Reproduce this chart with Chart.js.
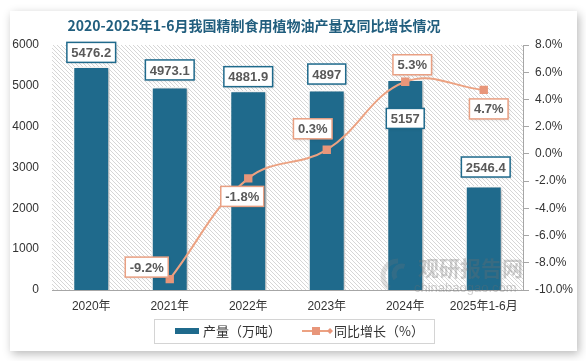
<!DOCTYPE html>
<html>
<head>
<meta charset="utf-8">
<script src="https://cdn.jsdelivr.net/npm/chart.js@4"></script>
<style>
  html, body { margin:0; padding:0; background:#ffffff; width:586px; height:361px; overflow:hidden; }
  #card { position:absolute; left:10px; top:11px; width:567px; height:340px; background:#fff;
          box-shadow: 2px 3px 9px rgba(0,0,0,0.28); }
  #c { position:absolute; left:0; top:0; }
</style>
</head>
<body>
<div id="card"></div>
<canvas id="c" width="586" height="361"></canvas>
<script>
const categories = ['2020年','2021年','2022年','2023年','2024年','2025年1-6月'];
const production = [5476.2, 4973.1, 4881.9, 4897, 5157, 2546.4];
const growth = [null, -9.2, -1.8, 0.3, 5.3, 4.7];
const titleText = '2020-2025年1-6月我国精制食用植物油产量及同比增长情况';
const legendBar = '产量（万吨）';
const legendLine = '同比增长（%）';

const BAR = '#1f6a8c';
const LINE = '#eca282';
const MARK = '#e8967a';
const FONT = '"Liberation Sans", "Noto Sans CJK SC", sans-serif';

// label placement offsets (px) relative to element
const barLabelOff = [[0,-14],[0,-17],[0,-14],[0,-16],[0,39],[2,-19]];
const lineLabelOff = [null,[-23,-12],[-6,18],[-14,-21],[7,-17],[5,19]];

let hatch = null;
function getHatch(ctx){
  if (hatch) return hatch;
  const p = document.createElement('canvas'); p.width = 4; p.height = 4;
  const g = p.getContext('2d');
  g.fillStyle = '#ffffff'; g.fillRect(0,0,4,4);
  g.strokeStyle = '#d6d6d6'; g.lineWidth = 1;
  g.beginPath(); g.moveTo(-1,-1); g.lineTo(5,5); g.moveTo(-1,3); g.lineTo(1,5); g.moveTo(3,-1); g.lineTo(5,1); g.stroke();
  hatch = ctx.createPattern(p,'repeat');
  return hatch;
}

function box(ctx, cx, cy, text, border){
  ctx.font = 'bold 13px ' + FONT;
  const w = ctx.measureText(text).width + 9;
  const h = 20;
  ctx.save();
  ctx.shadowColor = 'rgba(0,0,0,0.18)'; ctx.shadowBlur = 3; ctx.shadowOffsetX = 1; ctx.shadowOffsetY = 1;
  ctx.fillStyle = '#fff';
  ctx.fillRect(cx - w/2, cy - h/2, w, h);
  ctx.restore();
  ctx.strokeStyle = border; ctx.lineWidth = 1.5;
  ctx.strokeRect(cx - w/2, cy - h/2, w, h);
  ctx.fillStyle = '#595959';
  ctx.textAlign = 'center'; ctx.textBaseline = 'middle';
  ctx.fillText(text, cx, cy + 1);
}

const deco = {
  id: 'deco',
  beforeDraw(chart){
    const {ctx, chartArea:a} = chart;
    ctx.save();
    ctx.fillStyle = getHatch(ctx);
    ctx.fillRect(a.left, a.top, a.right - a.left, a.bottom - a.top);
    ctx.restore();
  },
  beforeDatasetDraw(chart, args){
    if (args.index === 0){
      chart.ctx.save();
      chart.ctx.shadowColor = 'rgba(0,0,0,0.25)';
      chart.ctx.shadowBlur = 4; chart.ctx.shadowOffsetX = 2; chart.ctx.shadowOffsetY = 1;
    }
  },
  afterDatasetDraw(chart, args){
    if (args.index === 0) chart.ctx.restore();
  },
  afterDatasetsDraw(chart){
    const ctx = chart.ctx;
    ctx.save();
    // watermark
    ctx.fillStyle = 'rgba(110,110,110,0.32)';
    ctx.font = 'bold 21px "Noto Sans CJK SC", sans-serif';
    ctx.textAlign = 'left'; ctx.textBaseline = 'middle';
    ctx.fillText('观研报告网', 418, 268);
    ctx.font = '13px "Liberation Sans", sans-serif';
    ctx.fillText('chinabaogao.com', 414, 288);
    ctx.strokeStyle = 'rgba(120,120,120,0.22)'; ctx.lineWidth = 5;
    ctx.beginPath(); ctx.arc(398, 276, 15, Math.PI*0.7, Math.PI*1.5); ctx.stroke();
    ctx.beginPath(); ctx.arc(402, 274, 8, Math.PI*0.8, Math.PI*1.6); ctx.stroke();

    const bm = chart.getDatasetMeta(0);
    bm.data.forEach((el, i) => {
      const o = barLabelOff[i];
      box(ctx, el.x + o[0], el.y + o[1], String(production[i]), '#1f6a8c');
    });
    const lm = chart.getDatasetMeta(1);
    lm.data.forEach((el, i) => {
      if (growth[i] === null) return;
      const o = lineLabelOff[i];
      box(ctx, el.x + o[0], el.y + o[1], growth[i].toFixed(1) + '%', '#e9a083');
    });
    ctx.restore();
  },
  afterDraw(chart){
    const ctx = chart.ctx;
    ctx.save();
    // title
    ctx.fillStyle = '#215e7e';
    ctx.font = 'bold 14px "Noto Sans CJK SC", sans-serif';
    ctx.textAlign = 'center'; ctx.textBaseline = 'middle';
    ctx.fillText(titleText, 254, 26);
    // legend
    ctx.strokeStyle = '#d4d4d4'; ctx.lineWidth = 1;
    ctx.strokeRect(154.5, 319.5, 280, 24);
    ctx.fillStyle = BAR;
    ctx.fillRect(175, 328, 24, 6);
    ctx.fillStyle = '#333';
    ctx.font = '13px "Noto Sans CJK SC", sans-serif';
    ctx.textAlign = 'left';
    ctx.fillText(legendBar, 203, 331);
    ctx.strokeStyle = LINE; ctx.lineWidth = 2;
    ctx.beginPath(); ctx.moveTo(302, 331); ctx.lineTo(329, 331); ctx.stroke();
    ctx.fillStyle = MARK;
    ctx.fillRect(312, 327, 8, 8);
    ctx.beginPath(); ctx.moveTo(327, 331); ctx.lineTo(330, 328); ctx.lineTo(333, 331); ctx.lineTo(330, 334); ctx.closePath(); ctx.fill();
    ctx.fillStyle = '#333';
    ctx.fillText(legendLine, 334, 331);
    ctx.restore();
  }
};

new Chart(document.getElementById('c'), {
  data: {
    labels: categories,
    datasets: [
      { type:'bar', label:legendBar, data:production, yAxisID:'y',
        backgroundColor:BAR, borderColor:'#ffffff', borderWidth:1.5,
        categoryPercentage:1, barPercentage:0.47, order:1 },
      { type:'line', label:legendLine, data:growth, yAxisID:'y1',
        borderColor:LINE, borderWidth:2, tension:0.4,
        pointStyle:'rect', pointRadius:4.5, pointBackgroundColor:MARK, pointBorderColor:MARK,
        spanGaps:true, order:0 }
    ]
  },
  options: {
    responsive:false, animation:false,
    layout:{ padding:{ top:45, left:0, right:0, bottom:0 } },
    plugins:{ legend:{display:false}, tooltip:{enabled:false}, title:{display:false} },
    scales:{
      x:{
        grid:{ display:false, drawTicks:false },
        border:{ display:true, color:'#a6a6a6', width:1 },
        ticks:{ color:'#333', font:{ size:12, family:FONT }, padding:9, maxRotation:0, autoSkip:false },
        afterFit(s){ s.height = 71; }
      },
      y:{
        position:'left', min:0, max:6000,
        grid:{ display:false, drawTicks:false },
        border:{ display:false },
        ticks:{ stepSize:1000, color:'#333', font:{ size:12, family:FONT }, padding:13,
                callback:(v)=> String(v) },
        afterFit(s){ s.width = 52; }
      },
      y1:{
        position:'right', min:-10, max:8,
        grid:{ display:true, drawOnChartArea:false, drawTicks:true, tickLength:6, color:'#a6a6a6' },
        border:{ display:true, color:'#a6a6a6', width:1 },
        ticks:{ stepSize:2, color:'#333', font:{ size:12, family:FONT }, padding:6,
                callback:(v)=> v.toFixed(1) + '%' },
        afterFit(s){ s.width = 63; }
      }
    }
  },
  plugins:[deco]
});
</script>
</body>
</html>
